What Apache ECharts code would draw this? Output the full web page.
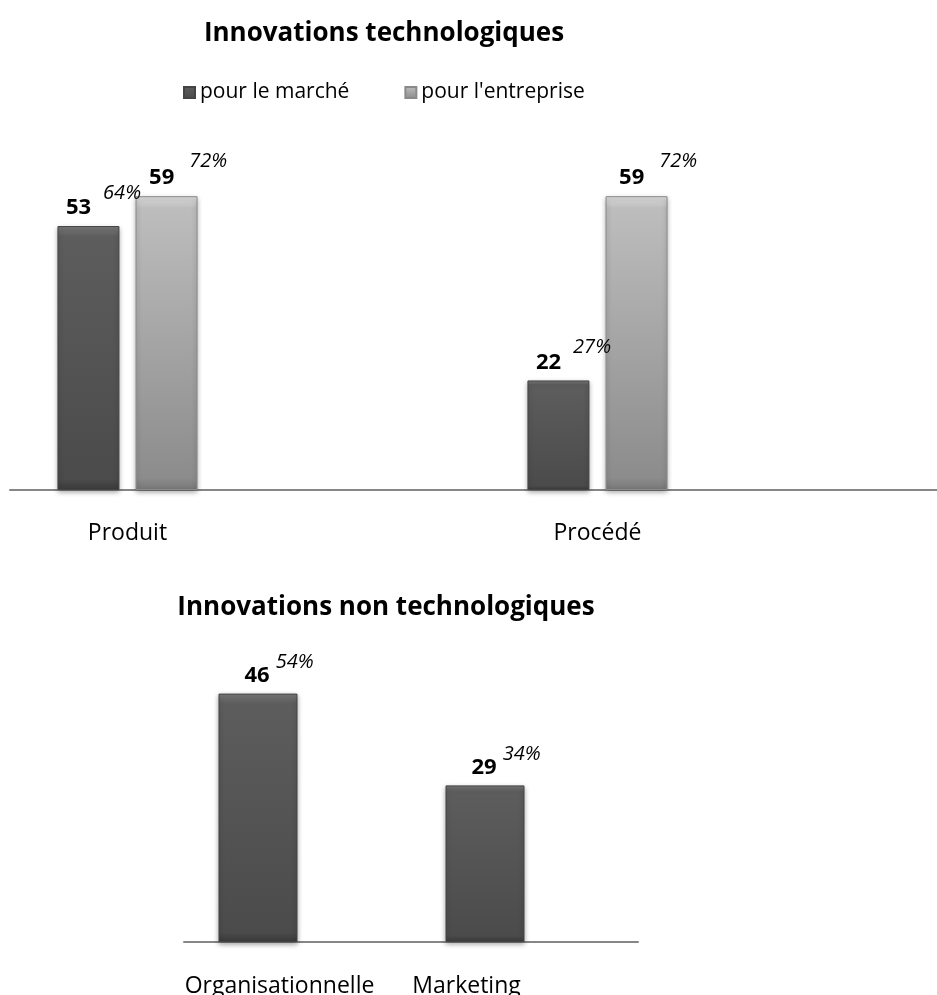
<!DOCTYPE html>
<html>
<head>
<meta charset="utf-8">
<script src="https://cdn.jsdelivr.net/npm/echarts@6/dist/echarts.min.js"></script>
<style>html,body{margin:0;padding:0;background:#fff}#c{width:937px;height:995px}</style>
</head>
<body>
<div id="c"></div>
<script>
// ---- data ----
const titleTop = 'Innovations technologiques';
const titleBottom = 'Innovations non technologiques';
const seriesNames = ['pour le marché', "pour l'entreprise"];
const techCategories = ['Produit', 'Procédé'];
const techMarche = [53, 22];
const techMarchePct = ['64%', '27%'];
const techEntreprise = [59, 59];
const techEntreprisePct = ['72%', '72%'];
const nonTechCategories = ['Organisationnelle', 'Marketing'];
const nonTechMarche = [46, 29];
const nonTechMarchePct = ['54%', '34%'];

// ---- build ----
const FONT = 'Open Sans';
// top chart: each category followed by an empty slot (the reference plot area is wider than two bands)
const topAxis = [];
techCategories.forEach(c => { topAxis.push(c); topAxis.push(''); });
function spread(arr) { const o = []; arr.forEach(v => { o.push(v); o.push('-'); }); return o; }
function spreadPct(arr) { const o = []; arr.forEach(v => { o.push(v); o.push(''); }); return o; }

const darkFill = new echarts.graphic.LinearGradient(0, 0, 0, 1, [
  {offset: 0, color: '#7a7a7a'}, {offset: 0.04, color: '#5d5d5d'},
  {offset: 0.96, color: '#4b4b4b'}, {offset: 1, color: '#3a3a3a'}]);
const lightFill = new echarts.graphic.LinearGradient(0, 0, 0, 1, [
  {offset: 0, color: '#dedede'}, {offset: 0.04, color: '#bdbdbd'},
  {offset: 0.96, color: '#8c8c8c'}, {offset: 1, color: '#777777'}]);

function makeLabel(pcts, shift, gap, raise) {
  return {
    show: true, position: 'top', distance: 7, align: 'left',
    offset: [-12.5 + shift, 0],
    formatter: p => '{v|' + p.value + '}{p|' + (pcts[p.dataIndex] || '') + '}',
    rich: {
      v: {fontFamily: FONT, fontWeight: 'bold', fontSize: 22, lineHeight: 22, color: '#000',
          verticalAlign: 'bottom', padding: [0, gap, 0, 0]},
      p: {fontFamily: FONT, fontStyle: 'italic', fontSize: 20, lineHeight: 20, color: '#000',
          verticalAlign: 'bottom', padding: [0, 0, raise, 0]}
    }
  };
}
const barShadow = {shadowBlur: 5, shadowColor: 'rgba(0,0,0,0.35)', shadowOffsetY: 2};

const axisCommon = {
  type: 'category', axisTick: {show: false},
  axisLine: {lineStyle: {color: '#868686', width: 2}},
  axisLabel: {interval: 0, fontFamily: FONT, fontSize: 23, color: '#000', margin: 32}
};

const option = {
  animation: false,
  backgroundColor: '#fff',
  title: [
    {text: titleTop, left: 384, top: 21, textAlign: 'center', padding: 0,
     textStyle: {fontFamily: FONT, fontWeight: 'bold', fontSize: 26, color: '#000'}},
    {text: titleBottom, left: 386, top: 595, textAlign: 'center', padding: 0,
     textStyle: {fontFamily: FONT, fontWeight: 'bold', fontSize: 26, color: '#000'}}
  ],
  legend: {
    data: seriesNames, left: 183, top: 82, padding: 0, itemGap: 55,
    itemWidth: 11, itemHeight: 11, icon: 'rect',
    textStyle: {fontFamily: FONT, fontSize: 21, color: '#000'}
  },
  grid: [
    {left: 10, width: 940, top: 141.4, height: 348.6, outerBoundsMode: 'none', containLabel: false},
    {left: 184, width: 454, top: 672, height: 270, outerBoundsMode: 'none', containLabel: false}
  ],
  xAxis: [
    Object.assign({}, axisCommon, {gridIndex: 0, data: topAxis}),
    Object.assign({}, axisCommon, {gridIndex: 1, data: nonTechCategories.map((c, i) => ({
      value: c, textStyle: {padding: [0, i === 0 ? 36 : 116, 0, 0]}
    })), axisLabel: Object.assign({}, axisCommon.axisLabel, {margin: 33})})
  ],
  yAxis: [
    {type: 'value', gridIndex: 0, min: 0, max: 70, show: false},
    {type: 'value', gridIndex: 1, min: 0, max: 50, show: false}
  ],
  series: [
    {name: seriesNames[0], type: 'bar', xAxisIndex: 0, yAxisIndex: 0, data: spread(techMarche),
     barWidth: 62, barGap: '26%', itemStyle: Object.assign({color: darkFill, borderColor: '#444', borderWidth: 1}, barShadow),
     label: makeLabel(spreadPct(techMarchePct), -10, 12, 16)},
    {name: seriesNames[1], type: 'bar', xAxisIndex: 0, yAxisIndex: 0, data: spread(techEntreprise),
     barWidth: 62, barGap: '26%', itemStyle: Object.assign({color: lightFill, borderColor: '#8a8a8a', borderWidth: 1}, barShadow),
     label: makeLabel(spreadPct(techEntreprisePct), -5, 15, 18)},
    {name: seriesNames[0], type: 'bar', xAxisIndex: 1, yAxisIndex: 1, data: nonTechMarche,
     barWidth: 79, barGap: '0%', itemStyle: Object.assign({color: darkFill, borderColor: '#444', borderWidth: 1}, barShadow),
     label: makeLabel(nonTechMarchePct, -1, 6, 14)},
    {name: seriesNames[1], type: 'bar', xAxisIndex: 1, yAxisIndex: 1, data: nonTechMarche.map(() => '-'),
     barWidth: 79, barGap: '0%', itemStyle: {color: lightFill}}
  ]
};
const chart = echarts.init(document.getElementById('c'), null, {renderer: 'canvas'});
chart.setOption(option);
</script>
</body>
</html>
